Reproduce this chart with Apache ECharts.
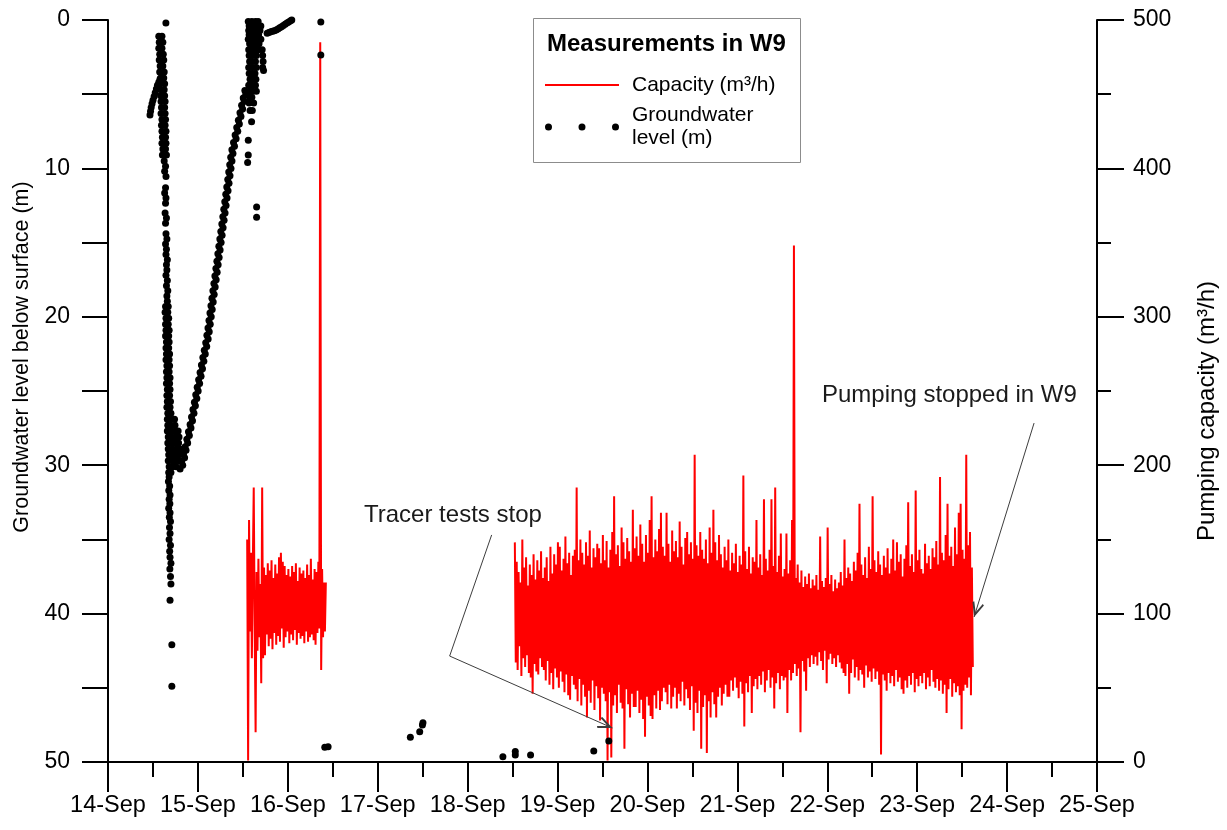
<!DOCTYPE html>
<html><head><meta charset="utf-8">
<script src="https://cdn.jsdelivr.net/npm/echarts@6/dist/echarts.min.js"></script>
<style>html,body{margin:0;padding:0;background:#fff}#chart{width:1227px;height:830px}</style>
</head><body><div id="chart"></div>
<script>
// ---------------- DATA ----------------
const dayLabels = ['14-Sep','15-Sep','16-Sep','17-Sep','18-Sep','19-Sep','20-Sep','21-Sep','22-Sep','23-Sep','24-Sep','25-Sep'];

// Pumping capacity (m3/h), logged every 15 minutes
const capacityStep = 1 / 96;
const capacitySeg1Start = 15.548;
const capacitySeg1 = [
  150, 1, 163, 88, 141, 70, 132, 185, 92, 20, 128, 75, 137, 84, 120, 53,
  185, 70, 131, 72, 126, 86, 134, 78, 129, 83, 136, 76, 124, 87, 133, 79,
  127, 85, 138, 81, 141, 90, 135, 77, 132, 84, 126, 88, 130, 80, 125, 86,
  132, 82, 128, 89, 134, 79, 122, 87, 131, 83, 127, 85, 129, 80, 124, 88,
  133, 81, 126, 84, 137, 86, 123, 82, 130, 79, 128, 87, 135, 90, 485, 62,
  130, 84, 121, 88, 121
];
const capacitySeg2Start = 18.525;
const capacitySeg2 = [
  148, 67, 135, 62, 128, 78, 121, 58, 150, 70, 131, 64, 138, 72, 119, 60, 133, 57, 126, 46, 140, 66, 123, 61, 136, 59, 129, 70, 142, 64, 124, 62,
  131, 55, 138, 68, 122, 52, 145, 60, 127, 49, 140, 63, 133, 57, 148, 50, 145, 61, 129, 54, 137, 47, 152, 59, 134, 45, 141, 42, 126, 58, 139, 52,
  143, 49, 185, 41, 136, 56, 150, 38, 141, 52, 133, 44, 148, 30, 139, 48, 156, 40, 131, 55, 144, 35, 138, 51, 147, 43, 144, 28, 134, 50, 153, 46,
  136, 41, 149, 1, 131, 47, 143, 3, 155, 38, 179, 45, 140, 33, 146, 52, 132, 40, 158, 36, 148, 9, 137, 49, 151, 39, 142, 30, 135, 46, 170, 37,
  144, 37, 152, 48, 139, 33, 160, 42, 147, 29, 135, 17, 153, 44, 141, 38, 163, 31, 179, 29, 138, 45, 150, 36, 142, 48, 157, 35, 168, 41, 145, 50,
  139, 47, 168, 39, 147, 52, 135, 36, 156, 44, 142, 50, 149, 36, 138, 46, 162, 41, 145, 54, 133, 38, 151, 49, 155, 43, 140, 35, 148, 51, 137, 21,
  207, 40, 146, 33, 139, 48, 155, 9, 143, 37, 137, 45, 150, 6, 134, 41, 158, 30, 141, 47, 170, 39, 148, 30, 136, 44, 153, 50, 140, 38, 131, 46,
  145, 52, 136, 44, 150, 44, 129, 55, 141, 48, 134, 57, 147, 50, 128, 43, 139, 54, 133, 46, 193, 24, 142, 53, 130, 47, 145, 58, 127, 33, 138, 51,
  135, 56, 163, 49, 131, 58, 140, 52, 126, 61, 177, 47, 137, 55, 129, 62, 143, 50, 177, 57, 132, 36, 185, 53, 128, 60, 139, 49, 154, 58, 125, 55,
  130, 57, 154, 33, 127, 62, 136, 55, 163, 60, 348, 66, 124, 58, 133, 63, 121, 20, 129, 68, 118, 61, 125, 48, 120, 70, 127, 64, 117, 72, 123, 66,
  119, 71, 126, 65, 116, 74, 152, 68, 122, 62, 118, 75, 124, 53, 158, 69, 120, 73, 126, 66, 115, 70, 123, 64, 117, 72, 121, 67, 128, 63, 119, 60,
  150, 58, 124, 66, 131, 46, 127, 60, 122, 69, 135, 57, 129, 64, 141, 55, 174, 62, 133, 59, 126, 50, 138, 65, 124, 57, 145, 61, 130, 54, 179, 63,
  136, 56, 128, 61, 142, 52, 133, 5, 126, 59, 139, 55, 131, 48, 144, 60, 127, 53, 137, 58, 150, 51, 129, 62, 148, 54, 135, 57, 140, 49, 125, 46,
  137, 55, 146, 50, 175, 58, 132, 52, 140, 60, 128, 47, 183, 56, 136, 51, 143, 58, 130, 53, 127, 60, 147, 49, 134, 57, 139, 51, 130, 62, 144, 54,
  138, 50, 149, 56, 133, 48, 192, 55, 141, 46, 136, 52, 153, 33, 174, 49, 139, 56, 145, 44, 132, 53, 158, 47, 140, 51, 168, 45, 174, 22, 143, 48,
  137, 52, 207, 50, 146, 57, 155, 45, 131, 64
];

// Groundwater level below surface (m): [day of September, depth]
const gwStart = [
  [14.467,6.4],[14.473,6.15],[14.48,5.9],[14.49,5.65],[14.5,5.4],[14.513,5.15],[14.525,4.9],
  [14.538,4.65],[14.55,4.4],[14.565,4.2],[14.578,4.0],[14.644,0.2]
];
const gwDrawdown = [
  [14.565,1.1],[14.6,1.1],[14.57,1.5],[14.61,1.5],[14.565,1.9],[14.6,1.9],[14.575,2.3],[14.615,2.3],
  [14.57,2.7],[14.62,2.7],[14.58,3.1],[14.61,3.1],[14.575,3.5],[14.625,3.5],[14.585,3.9],[14.62,3.9],
  [14.58,4.3],[14.63,4.3],[14.59,4.7],[14.625,4.7],[14.585,5.1],[14.63,5.1],[14.59,5.5],[14.635,5.5],
  [14.595,5.9],[14.63,5.9],[14.59,6.3],[14.635,6.3],[14.6,6.7],[14.64,6.7],[14.595,7.1],[14.635,7.1],
  [14.6,7.5],[14.645,7.5],[14.605,7.9],[14.64,7.9],[14.6,8.3],[14.645,8.3],[14.61,8.7],[14.64,8.7],
  [14.605,9.1],[14.65,9.1],
  [14.625,9.5],[14.64,9.85],[14.63,10.2],[14.645,10.55],[14.64,11.3],[14.63,11.65],[14.645,12.0],
  [14.64,12.35],[14.635,13.0],[14.65,13.35],[14.64,13.7],[14.645,14.4],[14.655,14.75],[14.64,15.1],
  [14.65,15.45],[14.645,15.8],[14.66,16.15],[14.65,16.5],[14.655,16.85],[14.645,17.2],[14.66,17.55],
  [14.65,17.9],[14.665,18.25],[14.655,18.6],[14.66,18.95],
  [14.64,19.3],[14.67,19.3],[14.635,19.7],[14.665,19.7],[14.645,20.1],[14.675,20.1],[14.64,20.5],[14.67,20.5],
  [14.645,20.9],[14.68,20.9],[14.64,21.3],[14.675,21.3],[14.65,21.7],[14.68,21.7],[14.645,22.1],[14.675,22.1],
  [14.65,22.5],[14.685,22.5],[14.645,22.9],[14.68,22.9],[14.655,23.3],[14.685,23.3],[14.65,23.7],[14.68,23.7],
  [14.655,24.1],[14.69,24.1],[14.65,24.5],[14.685,24.5],[14.66,24.9],[14.69,24.9],[14.655,25.3],[14.685,25.3],
  [14.66,25.7],[14.695,25.7],[14.655,26.1],[14.69,26.1],[14.665,26.5],[14.7,26.5],
  [14.66,26.9],[14.7,26.9],[14.74,26.9],[14.665,27.3],[14.7,27.3],[14.745,27.3],
  [14.66,27.7],[14.705,27.7],[14.75,27.7],[14.78,27.7],[14.67,28.1],[14.71,28.1],[14.755,28.1],[14.79,28.1],
  [14.665,28.5],[14.705,28.5],[14.745,28.5],[14.785,28.5],[14.67,28.9],[14.715,28.9],[14.76,28.9],[14.8,28.9],
  [14.675,29.3],[14.71,29.3],[14.75,29.3],[14.79,29.3],[14.67,29.7],[14.715,29.7],[14.755,29.7],[14.795,29.7],
  [14.68,30.1],[14.72,30.1],[14.76,30.1],[14.675,30.5],[14.7,30.5],
  [14.68,30.8],[14.672,31.1],[14.686,31.4],[14.676,31.7],[14.69,32.0],[14.68,32.3],[14.688,32.6],
  [14.675,32.9],[14.69,33.2],[14.682,33.5],[14.695,33.8],[14.684,34.2],[14.69,34.6],[14.68,35.0],
  [14.695,35.4],[14.686,35.8],[14.69,36.2],[14.7,36.6],[14.688,37.0],[14.695,37.5],[14.7,38.0],
  [14.69,39.1],[14.71,42.1],[14.71,44.9]
];
const gwRecovery = [
  [14.802,30.25],[14.831,30.0],[14.82,29.75],[14.852,29.5],[14.84,29.25],[14.868,29.0],[14.858,28.75],
  [14.886,28.5],[14.877,28.25],[14.905,28.0],[14.895,27.75],[14.923,27.5],
  [14.913,27.25],[14.94,27.0],[14.929,26.75],[14.956,26.5],[14.945,26.25],[14.972,26.0],[14.961,25.75],
  [14.988,25.5],[14.976,25.25],[15.003,25.0],[14.992,24.75],[15.019,24.5],[15.008,24.25],[15.035,24.0],
  [15.024,23.75],[15.051,23.5],[15.039,23.25],[15.066,23.0],[15.055,22.75],[15.082,22.5],[15.071,22.25],
  [15.098,22.0],[15.087,21.75],[15.114,21.5],
  [15.1,21.25],[15.126,21.0],[15.112,20.75],[15.137,20.5],[15.123,20.25],[15.148,20.0],[15.134,19.75],
  [15.159,19.5],[15.145,19.25],[15.17,19.0],[15.156,18.75],[15.181,18.5],[15.167,18.25],[15.192,18.0],
  [15.178,17.75],[15.203,17.5],[15.189,17.25],[15.214,17.0],[15.2,16.75],[15.225,16.5],[15.211,16.25],
  [15.236,16.0],[15.222,15.75],[15.247,15.5],[15.233,15.25],[15.258,15.0],[15.244,14.75],[15.269,14.5],
  [15.255,14.25],[15.28,14.0],[15.266,13.75],[15.291,13.5],[15.277,13.25],[15.302,13.0],[15.288,12.75],
  [15.313,12.5],[15.299,12.25],[15.324,12.0],[15.31,11.75],[15.335,11.5],[15.321,11.25],[15.346,11.0],
  [15.332,10.75],[15.357,10.5],[15.343,10.25],[15.368,10.0],[15.354,9.75],[15.379,9.5],[15.365,9.25],
  [15.39,9.0],
  [15.378,8.75],[15.407,8.5],[15.396,8.25],[15.425,8.0],[15.414,7.75],[15.443,7.5],[15.432,7.25],
  [15.461,7.0],[15.45,6.75],[15.479,6.5],[15.468,6.25],[15.497,6.0],[15.486,5.75],[15.515,5.5],
  [15.504,5.25],[15.533,5.0],[15.522,4.75]
];
const gwTop = [
  [15.56,0.1],[15.6,0.1],[15.64,0.1],[15.67,0.1],
  [15.57,0.4],[15.61,0.4],[15.645,0.4],[15.68,0.4],[15.7,0.4],
  [15.565,0.7],[15.6,0.7],[15.635,0.7],[15.67,0.7],[15.69,0.7],
  [15.57,1.0],[15.605,1.0],[15.64,1.0],[15.675,1.0],
  [15.56,1.3],[15.6,1.3],[15.63,1.3],[15.66,1.3],[15.7,1.3],
  [15.575,1.6],[15.61,1.6],[15.645,1.6],[15.68,1.6],
  [15.565,2.0],[15.6,2.0],[15.635,2.0],[15.67,2.0],[15.715,2.0],
  [15.57,2.4],[15.61,2.4],[15.65,2.4],[15.72,2.4],
  [15.575,2.8],[15.6,2.8],[15.64,2.8],[15.725,2.8],
  [15.565,3.2],[15.61,3.2],[15.65,3.2],[15.72,3.2],
  [15.57,3.6],[15.6,3.6],[15.635,3.6],[15.73,3.4],
  [15.58,4.0],[15.615,4.0],[15.645,4.0],
  [15.565,4.4],[15.6,4.4],[15.64,4.4],
  [15.57,4.8],[15.61,4.8],[15.65,4.8],
  [15.575,5.2],[15.6,5.2],[15.57,5.6],[15.62,5.6],[15.58,6.1],[15.605,6.1],
  [15.597,6.85],[15.56,8.1],[15.56,9.1],[15.553,9.6],[15.653,12.6],[15.653,13.3],
  [15.77,0.9],[15.79,0.85],[15.81,0.8],[15.83,0.76],[15.85,0.72],[15.87,0.67],[15.89,0.6],
  [15.91,0.52],[15.93,0.45],[15.95,0.37],[15.97,0.29],[15.99,0.21],[16.01,0.13],[16.03,0.05],[16.044,0.0]
];
const gwIsolated = [
  [16.367,0.13],[16.367,2.36],[16.411,49.0],[16.448,48.97],[17.363,48.34],[17.467,47.96],
  [17.497,47.51],[17.503,47.35],[18.392,49.64],[18.53,49.53],[18.53,49.3],[18.7,49.53],
  [19.403,49.26],[19.57,48.58]
];

// Annotation leader lines: [day, capacity-axis value]
const tracerLeader = [[18.267,153],[17.8,71.4],[19.611,22.9]];
const pumpLeader = [[24.3,228.4],[23.633,97.7]];

// ---------------- BUILD ----------------
const FONT = 'Liberation Sans, Arial, sans-serif';
const capacityName = 'Capacity (m³/h)';
const gwName = 'Groundwater level (m)';

const capacityData = [];
capacitySeg1.forEach((v, i) => capacityData.push([capacitySeg1Start + i * capacityStep, v]));
capacityData.push([16.6, null]);
capacitySeg2.forEach((v, i) => capacityData.push([capacitySeg2Start + i * capacityStep, v]));

const gwData = [].concat(gwStart, gwDrawdown, gwRecovery, gwTop, gwIsolated);

const arrowIcon = 'path://M5,0L5.02,0L5.02,0.02Z M5,13L10,25L8.7,26L5,17.4L1.3,26L0,25Z';
const lineIcon = 'path://M0,2.5h74v2h-74z M0,0h0.02v7h-0.02z';
const dotsIcon = 'path://M0,3.5a3.5,3.5 0 1,0 7,0a3.5,3.5 0 1,0 -7,0z M33.5,3.5a3.5,3.5 0 1,0 7,0a3.5,3.5 0 1,0 -7,0z M67,3.5a3.5,3.5 0 1,0 7,0a3.5,3.5 0 1,0 -7,0z';

const axisCol = '#000';
const chart = echarts.init(document.getElementById('chart'), null, {renderer: 'canvas'});
chart.setOption({
  animation: false,
  backgroundColor: '#fff',
  textStyle: {fontFamily: FONT},
  grid: {left: 108, right: 130, top: 20, bottom: 68, outerBoundsMode: 'none', containLabel: false},
  title: {
    text: 'Measurements in W9', left: 547, top: 32, padding: 0,
    textStyle: {fontFamily: FONT, fontSize: 24, fontWeight: 'bold', color: '#000', lineHeight: 24}
  },
  legend: {
    orient: 'vertical', left: 545, top: 73.5, padding: 0, itemGap: 7.5,
    itemWidth: 74, itemHeight: 7, selectedMode: false,
    textStyle: {fontFamily: FONT, fontSize: 21, lineHeight: 23, color: '#000', padding: [0, 0, 0, 8]},
    formatter: name => name === gwName ? 'Groundwater\nlevel (m)' : name,
    data: [
      {name: capacityName, icon: lineIcon, itemStyle: {color: '#ff0000', borderWidth: 0}},
      {name: gwName, icon: dotsIcon, itemStyle: {color: '#000', borderWidth: 0, opacity: 1}}
    ]
  },
  graphic: [
    {type: 'rect', shape: {x: 533.5, y: 18.5, width: 267, height: 144}, style: {fill: 'none', stroke: '#8c8c8c', lineWidth: 1}, z: 10},
    {type: 'text', x: 364, y: 515, style: {text: 'Tracer tests stop', fontFamily: FONT, fontSize: 24, fill: '#1a1a1a', verticalAlign: 'middle', align: 'left'}, z: 10},
    {type: 'text', x: 822, y: 395, style: {text: 'Pumping stopped in W9', fontFamily: FONT, fontSize: 24, fill: '#1a1a1a', verticalAlign: 'middle', align: 'left'}, z: 10}
  ],
  xAxis: {
    type: 'value', position: 'bottom', min: 14, max: 25, interval: 1,
    axisLine: {show: true, onZero: false, lineStyle: {color: axisCol, width: 2}},
    axisTick: {show: true, inside: false, length: 30, lineStyle: {color: axisCol, width: 2}},
    minorTick: {show: true, splitNumber: 2, length: 15, lineStyle: {color: axisCol, width: 2}},
    splitLine: {show: false}, minorSplitLine: {show: false},
    axisLabel: {margin: 32, fontSize: 23.5, color: '#000', fontFamily: FONT,
      formatter: v => dayLabels[Math.round(v - 14)] || ''}
  },
  yAxis: [
    {
      type: 'value', position: 'left', inverse: true, min: 0, max: 50, interval: 5,
      name: 'Groundwater level below surface (m)', nameLocation: 'middle', nameRotate: 90, nameGap: 74,
      nameTextStyle: {fontSize: 21.5, color: '#000', fontFamily: FONT, padding: [0, 0, 0, 68]},
      axisLine: {show: true, onZero: false, lineStyle: {color: axisCol, width: 2}},
      axisTick: {show: true, length: 26, lineStyle: {color: axisCol, width: 2}},
      splitLine: {show: false},
      axisLabel: {margin: 38, fontSize: 23, color: '#000', fontFamily: FONT,
        formatter: v => (v % 10 === 0 ? String(v) : '')}
    },
    {
      type: 'value', position: 'right', min: 0, max: 500, interval: 100,
      name: 'Pumping capacity (m³/h)', nameLocation: 'middle', nameRotate: 90, nameGap: 98,
      nameTextStyle: {fontSize: 24, color: '#000', fontFamily: FONT, padding: [0, 40, 0, 0]},
      axisLine: {show: true, onZero: false, lineStyle: {color: axisCol, width: 2}},
      axisTick: {show: true, length: 27, lineStyle: {color: axisCol, width: 2}},
      minorTick: {show: true, splitNumber: 2, length: 14, lineStyle: {color: axisCol, width: 2}},
      splitLine: {show: false}, minorSplitLine: {show: false},
      axisLabel: {margin: 36, fontSize: 23, color: '#000', fontFamily: FONT}
    }
  ],
  series: [
    {
      name: capacityName, type: 'line', xAxisIndex: 0, yAxisIndex: 1, data: capacityData,
      showSymbol: false, symbol: 'none', connectNulls: false, sampling: null,
      lineStyle: {color: '#ff0000', width: 2}, itemStyle: {color: '#ff0000'}, z: 2,
      markLine: {
        silent: true, animation: false, label: {show: false},
        lineStyle: {color: '#3d3d3d', width: 1, type: 'solid'},
        symbol: ['none', 'none'],
        data: [
          [{coord: tracerLeader[0], symbol: 'none'}, {coord: tracerLeader[1], symbol: 'none'}],
          [{coord: tracerLeader[1], symbol: 'none'}, {coord: tracerLeader[2], symbol: arrowIcon, symbolSize: [12, 30]}],
          [{coord: pumpLeader[0], symbol: 'none'}, {coord: pumpLeader[1], symbol: arrowIcon, symbolSize: [12, 30]}]
        ]
      }
    },
    {
      name: gwName, type: 'scatter', xAxisIndex: 0, yAxisIndex: 0, data: gwData,
      symbol: 'circle', symbolSize: 7, itemStyle: {color: '#000', opacity: 1}, z: 3
    }
  ]
});
</script></body></html>
